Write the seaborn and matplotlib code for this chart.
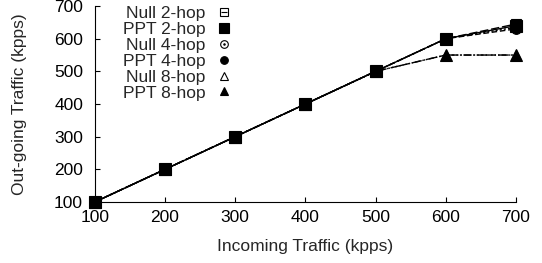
import numpy as np
import pandas as pd
import matplotlib
matplotlib.use("Agg")
import matplotlib.pyplot as plt
from matplotlib.lines import Line2D
import seaborn as sns

incoming = [100, 200, 300, 400, 500, 600, 700]
null_2hop = [100, 200, 300, 400, 500, 600, 645]
ppt_2hop = [100, 200, 300, 400, 500, 600, 640]
null_4hop = [100, 200, 300, 400, 500, 600, 635]
ppt_4hop = [100, 200, 300, 400, 500, 600, 630]
null_8hop = [100, 200, 300, 400, 500, 550, 550]
ppt_8hop = [100, 200, 300, 400, 500, 550, 550]

labels = ["Null 2-hop", "PPT 2-hop", "Null 4-hop", "PPT 4-hop", "Null 8-hop", "PPT 8-hop"]
values = [null_2hop, ppt_2hop, null_4hop, ppt_4hop, null_8hop, ppt_8hop]

sns.set_style("ticks")
plt.rcParams["font.family"] = ["Liberation Sans", "DejaVu Sans"]
FS = 12.5
plt.rcParams["font.size"] = FS

# marker, filled, linestyle, markersize (plot), markersize (legend), overlay marker
styles = {
    "Null 2-hop": ("s", False, (0, (6, 2)), 7, 6, "_"),
    "PPT 2-hop": ("s", True, "-", 8, 7, None),
    "Null 4-hop": ("o", False, (0, (1.5, 1.5)), 6.5, 5.5, "."),
    "PPT 4-hop": ("o", True, (0, (4, 2)), 7, 5.5, None),
    "Null 8-hop": ("^", False, (0, (5, 1.5, 1, 1.5)), 7.5, 6, None),
    "PPT 8-hop": ("^", True, (0, (6, 1.5, 1, 1.5, 1, 1.5)), 8, 5.5, None),
}

fig = plt.figure(figsize=(5.42, 2.63), dpi=100)
ax = fig.add_axes([0.175, 0.232, 0.777, 0.745])

draw_order = ["Null 8-hop", "PPT 8-hop", "Null 4-hop", "PPT 4-hop", "Null 2-hop", "PPT 2-hop"]
handles = {}
for name in draw_order:
    ys = values[labels.index(name)]
    df = pd.DataFrame({"incoming": incoming, "outgoing": ys})
    m, filled, ls, ms, lms, over = styles[name]
    sns.lineplot(data=df, x="incoming", y="outgoing", ax=ax, color="black",
                 linewidth=1.0, linestyle=ls, marker=m, markersize=ms,
                 markerfacecolor="black" if filled else "white",
                 markeredgecolor="black", markeredgewidth=0.8,
                 clip_on=False, zorder=3)
    h = Line2D([], [], linestyle="none", marker=m, markersize=lms,
               markerfacecolor="black" if filled else "white",
               markeredgecolor="black", markeredgewidth=0.8)
    if over:
        osz = ms * 0.8 if over == "_" else 2
        sns.lineplot(data=df, x="incoming", y="outgoing", ax=ax, color="black",
                     linestyle="none", marker=over, markersize=osz,
                     markeredgewidth=0.8, clip_on=False, zorder=3)
        h2 = Line2D([], [], linestyle="none", marker=over,
                    markersize=lms * 0.8 if over == "_" else 2,
                    color="black", markeredgewidth=0.8)
        h = (h, h2)
    handles[name] = h

ax.set_xlim(100, 700)
ax.set_ylim(100, 700)
ax.set_xticks(incoming)
ax.set_yticks([100, 200, 300, 400, 500, 600, 700])
ax.set_xlabel("Incoming Traffic (kpps)", fontsize=FS)
ax.set_ylabel("Out-going Traffic (kpps)", fontsize=FS)
ax.xaxis.set_label_coords(0.4988, -0.19)
ax.yaxis.set_label_coords(-0.162, 0.5)
ax.tick_params(direction="in", length=3.5, width=0.8, labelsize=FS, colors="black")
ax.tick_params(axis="x", pad=6)
ax.tick_params(axis="y", pad=8.5)
sns.despine(ax=ax)
for s in ("left", "bottom"):
    ax.spines[s].set_linewidth(0.8)
    ax.spines[s].set_color("black")

leg = ax.legend([handles[n] for n in labels], labels, loc="upper right",
                bbox_to_anchor=(0.343, 1.035), frameon=False, markerfirst=False,
                handlelength=1.0, handletextpad=0.55, labelspacing=0.04,
                fontsize=FS, borderaxespad=0)
for col in leg._legend_handle_box.get_children():
    col.align = "right"

fig.savefig("out.png", dpi=100)
